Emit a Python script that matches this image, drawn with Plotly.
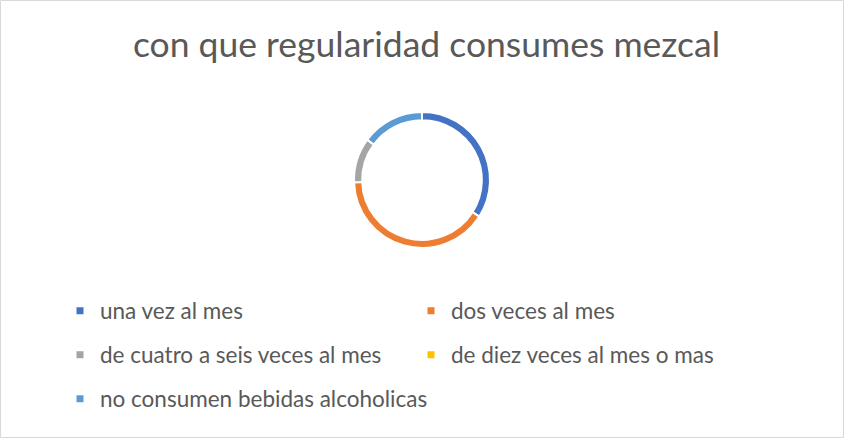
import plotly.graph_objects as go

title_text = "con que regularidad consumes mezcal"
categories = ["una vez al mes", "dos veces al mes", "de cuatro a seis veces al mes",
              "de diez veces al mes o mas", "no consumen bebidas alcoholicas"]
counts = [16, 19, 5, 0, 7]
colors = ["#4472C4", "#ED7D31", "#A5A5A5", "#FFC000", "#5B9BD5"]
legend_rows = ["legend", "legend", "legend2", "legend2", "legend3"]

W, H = 845, 439
cx, cy, r = 422, 180, 68

fig = go.Figure()
fig.add_trace(go.Pie(
    labels=categories, values=counts, sort=False, direction="clockwise", rotation=0,
    hole=0.88, marker=dict(colors=colors, line=dict(color="white", width=2)),
    textinfo="none", hoverinfo="label+value+percent", showlegend=False,
    domain=dict(x=[(cx - r) / W, (cx + r) / W], y=[1 - (cy + r) / H, 1 - (cy - r) / H]),
))
for cat, col, lg in zip(categories, colors, legend_rows):
    fig.add_trace(go.Scatter(
        x=[None], y=[None], mode="markers", name=cat, legend=lg,
        marker=dict(symbol="square", size=7, color=col), showlegend=True,
    ))

leg_common = dict(orientation="h", entrywidth=306, entrywidthmode="pixels",
                  xanchor="left", yanchor="middle", x=60 / W, itemsizing="trace",
                  font=dict(family="Lato", size=22.5, color="#595959"),
                  bgcolor="rgba(0,0,0,0)", traceorder="normal")
fig.update_layout(
    width=W, height=H, margin=dict(l=0, r=0, t=0, b=0),
    paper_bgcolor="white", plot_bgcolor="white",
    title=dict(text=title_text, x=0.5 + 4 / W, xanchor="center", y=1 - 45 / H, yanchor="middle",
               font=dict(family="Lato", size=35.5, color="#595959")),
    xaxis=dict(visible=False), yaxis=dict(visible=False),
    legend=dict(**leg_common, y=1 - 311 / H),
    legend2=dict(**leg_common, y=1 - 355 / H),
    legend3=dict(**{**leg_common, "orientation": "v"}, y=1 - 399 / H),
    shapes=[dict(type="rect", xref="paper", yref="paper", x0=0.5 / W, x1=1 - 1.5 / W,
                 y0=1.5 / H, y1=1 - 0.5 / H, line=dict(color="#D9D9D9", width=1))],
)
fig.write_html("out.html", config={"displayModeBar": False},
               post_script="document.body.style.margin='0';document.body.style.overflow='hidden';")
